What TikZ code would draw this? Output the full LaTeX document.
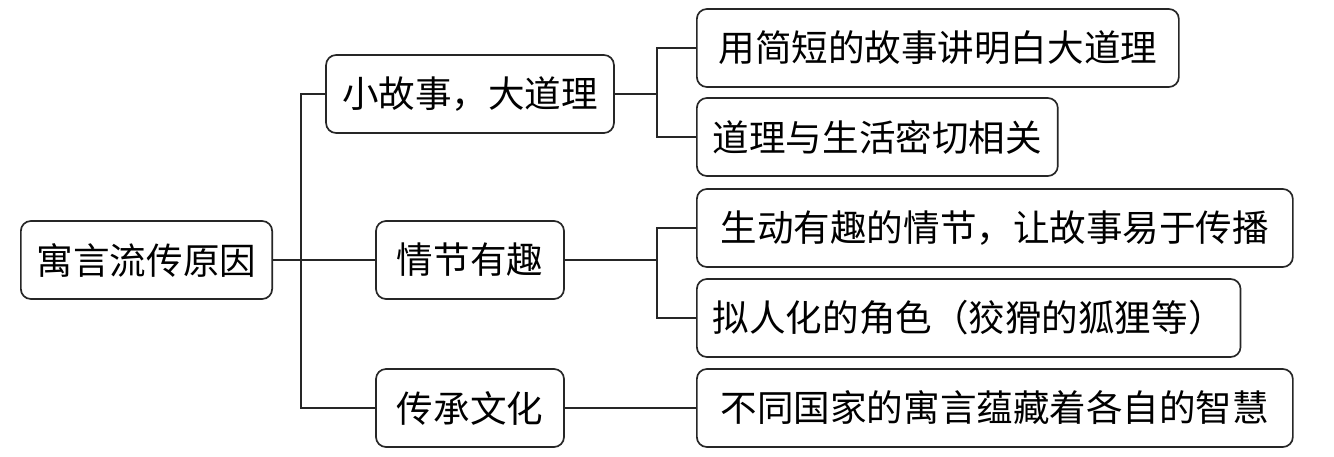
\documentclass[tikz,border=0pt]{standalone}
\usepackage{fontspec}
\newfontfamily\cjk{Noto Sans CJK SC}
\usepackage{tikz}
\usetikzlibrary{calc}
\usetikzlibrary{positioning}
\tikzset{
	kasten/.style={
		rectangle,
		rounded corners=0.25cm,
		draw=black!85, line width=1.2pt,
		fill=white,
		inner xsep=0.4cm,
		minimum height=1.95cm,
		text centered,
		font=\cjk\fontsize{26}{30}\selectfont},
	wurzel/.style={kasten, anchor=west},
	ast/.style={kasten},
	blatt/.style={kasten, anchor=west},
	linie/.style={draw=black!85, line width=1.2pt},
}
\begin{document}
\begin{tikzpicture}
	\useasboundingbox (0,0) rectangle (33.35,-11.4);
	% Hilfskoordinaten fuer die senkrechten Linien
	\coordinate (stamm) at (7.525,0);
	\coordinate (gabel) at (16.425,0);

	\node[wurzel] (wurzel) at (0.5,-6.5) {寓言流传原因};

	\node[ast] (ast1) at (11.75,-2.35) {小故事，大道理};
	\node[ast, minimum width=4.7cm] (ast2) at (11.75,-6.5) {情节有趣};
	\node[ast, minimum width=4.7cm] (ast3) at (11.75,-10.2) {传承文化};

	\node[blatt, minimum width=12.05cm] (blatt1) at (17.4,-1.2) {用简短的故事讲明白大道理};
	\node[blatt] (blatt2) at (17.4,-3.425) {道理与生活密切相关};
	\node[blatt, minimum width=14.9cm] (blatt3) at (17.4,-5.7) {生动有趣的情节，让故事易于传播};
	\node[blatt] (blatt4) at (17.4,-7.95) {拟人化的角色（狡猾的狐狸等）};
	\node[blatt, minimum width=14.9cm] (blatt5) at (17.4,-10.2) {不同国家的寓言蕴藏着各自的智慧};

	% Stamm
	\draw[linie] (wurzel.east) -- (ast2.west);
	\draw[linie] (ast1.west) -- (ast1.west -| stamm) |- (ast3.west);

	% Zweige
	\draw[linie] (ast1.east) -- (ast1.east -| gabel);
	\draw[linie] (blatt1.west) -- (blatt1.west -| gabel) |- (blatt2.west);
	\draw[linie] (ast2.east) -- (ast2.east -| gabel);
	\draw[linie] (blatt3.west) -- (blatt3.west -| gabel) |- (blatt4.west);
	\draw[linie] (ast3.east) -- (blatt5.west);
\end{tikzpicture}
\end{document}
